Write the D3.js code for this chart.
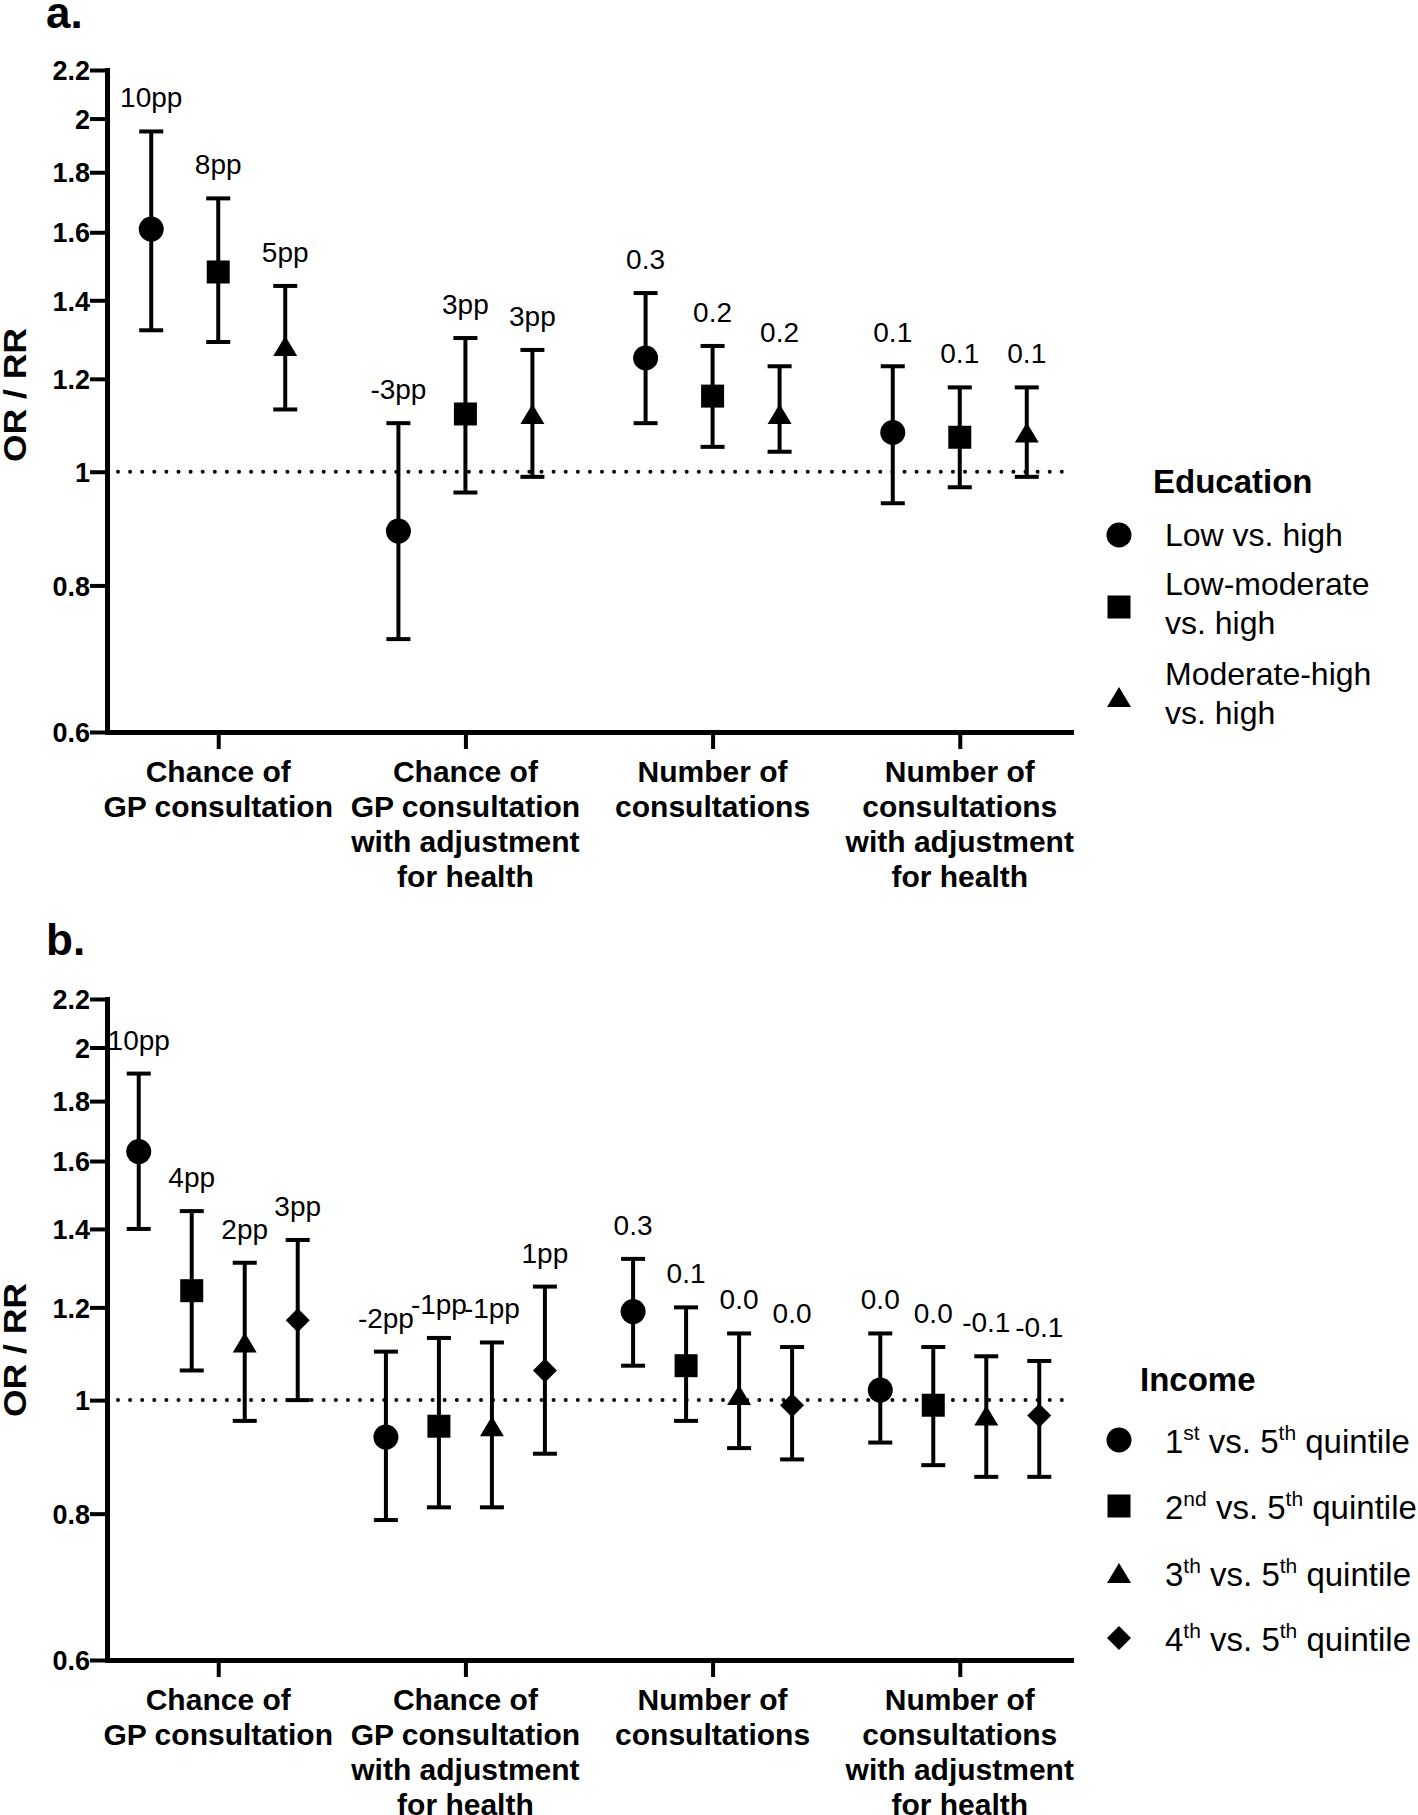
<!DOCTYPE html>
<html>
<head>
<meta charset="utf-8">
<script src="https://cdn.jsdelivr.net/npm/d3@7"></script>
<style>
  body { margin: 0; background: #fff; }
  svg { display: block; font-family: "Liberation Sans", Arial, sans-serif; }
</style>
</head>
<body>
<svg id="chart" width="1418" height="1815"></svg>
<script>
// data
const categories = [["Chance of", "GP consultation"],
                    ["Chance of", "GP consultation", "with adjustment", "for health"],
                    ["Number of", "consultations"],
                    ["Number of", "consultations", "with adjustment", "for health"]];
const yTicks = [0.6, 0.8, 1, 1.2, 1.4, 1.6, 1.8, 2, 2.2];

// a. education (rows = series, cols = categories)
const eduLegend = [["Low vs. high"], ["Low-moderate", "vs. high"], ["Moderate-high", "vs. high"]];
const eduEst = [[1.61, 0.89, 1.25, 1.08],
                [1.48, 1.12, 1.16, 1.07],
                [1.28, 1.12, 1.12, 1.08]];
const eduLo  = [[1.32, 0.72, 1.10, 0.94],
                [1.29, 0.96, 1.05, 0.97],
                [1.13, 0.99, 1.04, 0.99]];
const eduHi  = [[1.95, 1.10, 1.42, 1.23],
                [1.71, 1.30, 1.28, 1.18],
                [1.44, 1.27, 1.23, 1.18]];
const eduText = [["10pp", "-3pp", "0.3", "0.1"],
                 ["8pp", "3pp", "0.2", "0.1"],
                 ["5pp", "3pp", "0.2", "0.1"]];

// b. income
const incLegend = [["1", "st", " vs. 5", "th", " quintile"],
                   ["2", "nd", " vs. 5", "th", " quintile"],
                   ["3", "th", " vs. 5", "th", " quintile"],
                   ["4", "th", " vs. 5", "th", " quintile"]];
const incEst = [[1.63, 0.93, 1.19, 1.02],
                [1.24, 0.95, 1.07, 0.99],
                [1.12, 0.95, 1.01, 0.97],
                [1.17, 1.06, 0.99, 0.97]];
const incLo  = [[1.40, 0.79, 1.07, 0.92],
                [1.06, 0.81, 0.96, 0.88],
                [0.96, 0.81, 0.91, 0.86],
                [1.00, 0.90, 0.89, 0.86]];
const incHi  = [[1.90, 1.10, 1.32, 1.14],
                [1.45, 1.13, 1.20, 1.11],
                [1.31, 1.12, 1.14, 1.09],
                [1.37, 1.25, 1.11, 1.08]];
const incText = [["10pp", "-2pp", "0.3", "0.0"],
                 ["4pp", "-1pp", "0.1", "0.0"],
                 ["2pp", "-1pp", "0.0", "-0.1"],
                 ["3pp", "1pp", "0.0", "-0.1"]];

const svg = d3.select("#chart"),
    xLeft = 107,
    xRight = 1071,
    capW = 12,
    shapes = [
      d3.symbol(d3.symbolCircle, Math.PI * 12.5 * 12.5)(),
      d3.symbol(d3.symbolSquare, 23 * 23)(),
      "M0,-10L12,10L-12,10Z",
      "M0,-12L12,0L0,12L-12,0Z"
    ];

drawPanel({label: "a.", labelY: 28, top: 70, bottom: 732, spread: 67,
           est: eduEst, lo: eduLo, hi: eduHi, text: eduText, titleY: 395});
drawPanel({label: "b.", labelY: 955, top: 999, bottom: 1660, spread: 79.5,
           est: incEst, lo: incLo, hi: incHi, text: incText, titleY: 1350});

// legends
const legA = svg.append("g");
legA.append("text").attr("x", 1153).attr("y", 493)
    .style("font-size", "33px").style("font-weight", "bold").text("Education");
const legAY = [535, 607, 697];
eduLegend.forEach(function(lines, i) {
  legA.append("path").attr("d", shapes[i])
      .attr("transform", "translate(1119," + legAY[i] + ")");
  const t = legA.append("text").attr("x", 1165)
      .attr("y", lines.length == 1 ? legAY[i] + 11 : legAY[i] - 12)
      .style("font-size", "32px");
  lines.forEach(function(l, j) {
    t.append("tspan").attr("x", 1165).attr("dy", j == 0 ? 0 : 39).text(l);
  });
});

const legB = svg.append("g");
legB.append("text").attr("x", 1140).attr("y", 1391)
    .style("font-size", "33px").style("font-weight", "bold").text("Income");
const legBY = [1440, 1506, 1573, 1638];
incLegend.forEach(function(parts, i) {
  legB.append("path").attr("d", shapes[i])
      .attr("transform", "translate(1119," + legBY[i] + ")");
  const t = legB.append("text").attr("x", 1165).attr("y", legBY[i] + 13)
      .style("font-size", "33px");
  parts.forEach(function(p, j) {
    const sup = j % 2 == 1;
    t.append("tspan")
        .attr("dy", sup ? -13 : (j == 0 ? 0 : 13))
        .style("font-size", sup ? "21px" : null)
        .text(p);
  });
});

function drawPanel(cfg) {
  const n = cfg.est.length;
  const y = d3.scaleLog().domain([0.6, 2.2]).range([cfg.bottom, cfg.top]);
  const x = d3.scalePoint().domain(d3.range(categories.length))
      .range([xLeft, xRight]).padding(0.45);
  const off = d3.scalePoint().domain(d3.range(n)).range([-cfg.spread, cfg.spread]);

  const g = svg.append("g");

  g.append("text").attr("x", 46).attr("y", cfg.labelY)
      .style("font-size", "44px").style("font-weight", "bold").text(cfg.label);

  // reference line at 1
  g.append("line")
      .attr("x1", xLeft + 11).attr("x2", xRight)
      .attr("y1", y(1)).attr("y2", y(1))
      .attr("stroke", "#000").attr("stroke-width", 4)
      .attr("stroke-linecap", "round").attr("stroke-dasharray", "0,12.1");

  // axes
  const yAxis = g.append("g").attr("transform", "translate(" + xLeft + ",0)")
      .call(d3.axisLeft(y).tickValues(yTicks).tickFormat(d3.format("")).tickSize(17)
            .tickSizeOuter(0).tickPadding(0));
  const xAxis = g.append("g").attr("transform", "translate(0," + cfg.bottom + ")")
      .call(d3.axisBottom(x).tickSize(17).tickSizeOuter(0).tickFormat(""));
  [yAxis, xAxis].forEach(function(a) {
    a.select(".domain").attr("stroke-width", 5).attr("stroke-linecap", "square");
    a.selectAll(".tick line").attr("stroke-width", 4);
  });
  yAxis.selectAll(".tick text")
      .attr("font-family", null).attr("font-size", null)
      .style("font-size", "27px").style("font-weight", "bold").attr("dy", "0.36em");

  // category labels
  categories.forEach(function(lines, c) {
    const t = g.append("text").attr("text-anchor", "middle")
        .attr("y", cfg.bottom + 50)
        .style("font-size", "30px").style("font-weight", "bold");
    lines.forEach(function(l, j) {
      t.append("tspan").attr("x", x(c)).attr("dy", j == 0 ? 0 : 35).text(l);
    });
  });

  // y title
  g.append("text")
      .attr("transform", "translate(26," + cfg.titleY + ") rotate(-90)")
      .attr("text-anchor", "middle")
      .attr("textLength", 134).attr("lengthAdjust", "spacingAndGlyphs")
      .style("font-size", "31px").style("font-weight", "bold").text("OR / RR");

  // error bars, markers, labels
  cfg.est.forEach(function(row, s) {
    row.forEach(function(v, c) {
      const cx = x(c) + off(s),
            yl = y(cfg.lo[s][c]),
            yh = y(cfg.hi[s][c]);
      const bar = g.append("g").attr("stroke", "#000").attr("stroke-width", 4);
      bar.append("line").attr("x1", cx).attr("x2", cx).attr("y1", yl).attr("y2", yh);
      bar.append("line").attr("x1", cx - capW).attr("x2", cx + capW).attr("y1", yl).attr("y2", yl);
      bar.append("line").attr("x1", cx - capW).attr("x2", cx + capW).attr("y1", yh).attr("y2", yh);
      g.append("path").attr("d", shapes[s])
          .attr("transform", "translate(" + cx + "," + y(v) + ")");
      g.append("text").attr("x", cx).attr("y", yh - 24)
          .attr("text-anchor", "middle").style("font-size", "28px")
          .text(cfg.text[s][c]);
    });
  });
}
</script>
</body>
</html>
